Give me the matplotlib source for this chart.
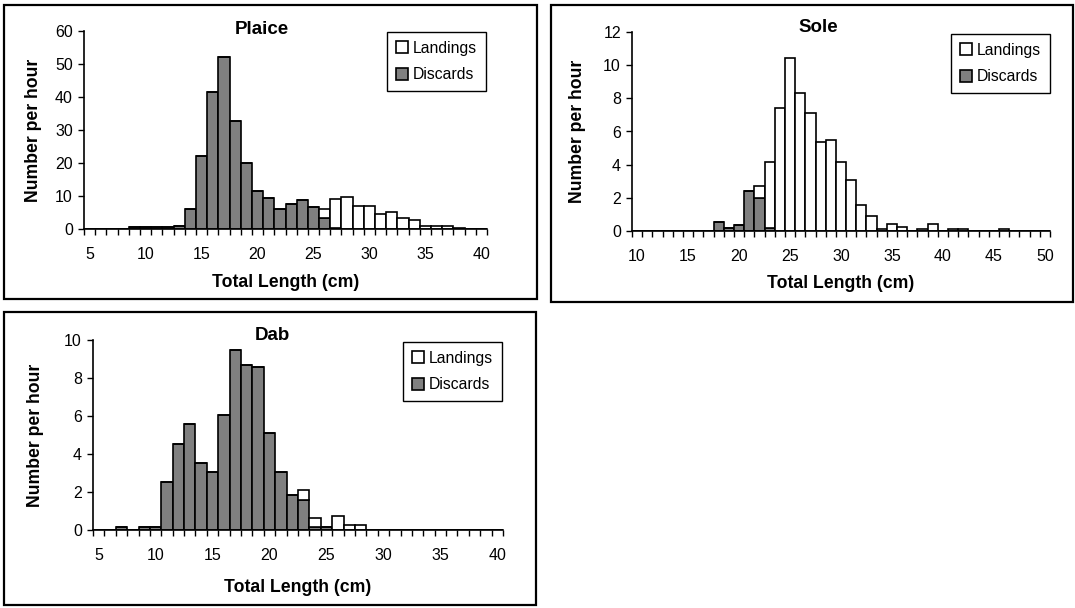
import numpy as np
import matplotlib.pyplot as plt
from matplotlib.patches import Rectangle

plt.rcParams.update(
    {
        "font.family": ["Liberation Sans", "DejaVu Sans"],
        "font.size": 11,
    }
)

GREY = "#808080"
W, H = 1075, 608

# Plaice, 5-40 cm
plaice_len = list(range(5, 41))
plaice_disc = [0, 0, 0, 0, 0.5, 0.5, 0.5, 0.5, 0.9, 6.0, 22.0, 41.5, 52.2, 32.6, 20.0,
               11.6, 9.3, 6.0, 7.5, 8.9, 6.6, 3.3, 0.4, 0, 0, 0, 0, 0, 0, 0,
               0, 0, 0, 0, 0, 0]
plaice_land = [0, 0, 0, 0, 0, 0, 0, 0, 0, 0, 0, 0, 0, 0, 0,
               0, 0, 0, 0, 0, 0, 2.7, 8.6, 9.7, 7.0, 7.0, 4.6, 5.1, 3.2, 2.8,
               0.8, 0.8, 0.8, 0.4, 0, 0]

# Sole, 10-50 cm
sole_len = list(range(10, 51))
sole_disc = [0, 0, 0, 0, 0, 0, 0, 0, 0.55, 0.2, 0.35, 2.4, 2.0, 0.2, 0, 0,
             0, 0, 0, 0, 0, 0, 0, 0, 0, 0, 0, 0, 0, 0, 0, 0, 0, 0, 0, 0,
             0, 0, 0, 0, 0]
sole_land = [0, 0, 0, 0, 0, 0, 0, 0, 0, 0, 0, 0, 0.7, 3.95, 7.4, 10.45,
             8.3, 7.1, 5.35, 5.5, 4.15, 3.05, 1.55, 0.9, 0.15, 0.45, 0.25, 0, 0.15, 0.45, 0, 0.15,
             0.15, 0, 0, 0, 0.15, 0, 0, 0, 0]

# Dab, 5-40 cm
dab_len = list(range(5, 41))
dab_disc = [0, 0, 0.15, 0, 0.15, 0.15, 2.55, 4.55, 5.6, 3.55, 3.05, 6.05, 9.5, 8.7, 8.6,
            5.1, 3.05, 1.85, 1.6, 0.15, 0.15, 0, 0, 0, 0, 0, 0, 0, 0, 0,
            0, 0, 0, 0, 0, 0]
dab_land = [0, 0, 0, 0, 0, 0, 0, 0, 0, 0, 0, 0, 0, 0, 0,
            0, 0, 0, 0.5, 0.5, 0, 0.72, 0.25, 0.25, 0, 0, 0, 0, 0, 0,
            0, 0, 0, 0, 0, 0]


def fig_box(x0, y0, x1, y1):
    # pixel box (top-left origin) -> figure fraction [l, b, w, h]
    return [x0 / W, 1 - y1 / H, (x1 - x0) / W, (y1 - y0) / H]


def panel(fig, frame, plot, title, title_xy, ylab_x, xlab_y, leg_xy,
          lengths, disc, land, ymax, ystep):
    l, b, w, h = fig_box(*frame)
    fig.add_artist(Rectangle((l, b), w, h, transform=fig.transFigure,
                             fill=False, edgecolor="black", linewidth=1.6))

    ax = fig.add_axes(fig_box(*plot))
    x = np.array(lengths)
    disc = np.array(disc)
    land = np.array(land)
    ax.bar(x, disc, width=1.0, color=GREY, edgecolor="black", linewidth=1.2,
           label="Discards")
    ax.bar(x, land, width=1.0, bottom=disc, color="white", edgecolor="black",
           linewidth=1.2, label="Landings")

    ax.set_xlim(x[0] - 0.5, x[-1] + 0.5)
    ax.set_ylim(0, ymax)
    ax.set_xticks(np.arange(x[0], x[-1] + 1, 5))
    ax.set_xticks(np.arange(x[0] - 0.5, x[-1] + 1, 1), minor=True)
    ax.set_yticks(np.arange(0, ymax + 0.1, ystep))
    ax.tick_params(axis="x", which="major", length=0, pad=13, labelsize=11.5)
    ax.tick_params(axis="x", which="minor", length=4, width=1, direction="out")
    ax.tick_params(axis="y", length=4, width=1, direction="out", labelsize=11.5,
                   pad=4)
    for s in ["top", "right"]:
        ax.spines[s].set_visible(False)
    for s in ["left", "bottom"]:
        ax.spines[s].set_linewidth(1.2)

    fig.text(title_xy[0] / W, 1 - title_xy[1] / H, title, ha="center",
             va="center", fontsize=13.5, fontweight="bold")
    fig.text(ylab_x / W, 1 - (plot[1] + plot[3]) / 2 / H, "Number per hour",
             rotation=90, ha="center", va="center", fontsize=12.7, fontweight="bold")
    fig.text(((plot[0] + plot[2]) / 2) / W, 1 - xlab_y / H, "Total Length (cm)",
             ha="center", va="center", fontsize=12.7, fontweight="bold")

    handles, labels = ax.get_legend_handles_labels()
    leg = ax.legend(handles[::-1], labels[::-1], loc="upper right",
                    bbox_to_anchor=(leg_xy[0] / W, 1 - leg_xy[1] / H),
                    bbox_transform=fig.transFigure, fontsize=11.3,
                    fancybox=False, framealpha=1, edgecolor="black",
                    handlelength=0.75, handleheight=0.75, handletextpad=0.35,
                    borderpad=0.55, labelspacing=0.75, borderaxespad=0)
    leg.get_frame().set_linewidth(1.0)
    return ax


fig = plt.figure(figsize=(W / 100, H / 100), dpi=100)

panel(fig, (4, 5, 537, 299), (84, 31, 487, 229), "Plaice", (262, 29), 34, 282,
      (486, 32), plaice_len, plaice_disc, plaice_land, 60, 10)
panel(fig, (551, 5, 1073, 302), (632, 32, 1050, 231), "Sole", (818, 28), 578, 283,
      (1050, 34), sole_len, sole_disc, sole_land, 12, 2)
panel(fig, (4, 312, 536, 605), (93, 340, 503, 530), "Dab", (272, 335), 35, 588,
      (502, 342), dab_len, dab_disc, dab_land, 10, 2)

fig.savefig("out.png", dpi=100)
